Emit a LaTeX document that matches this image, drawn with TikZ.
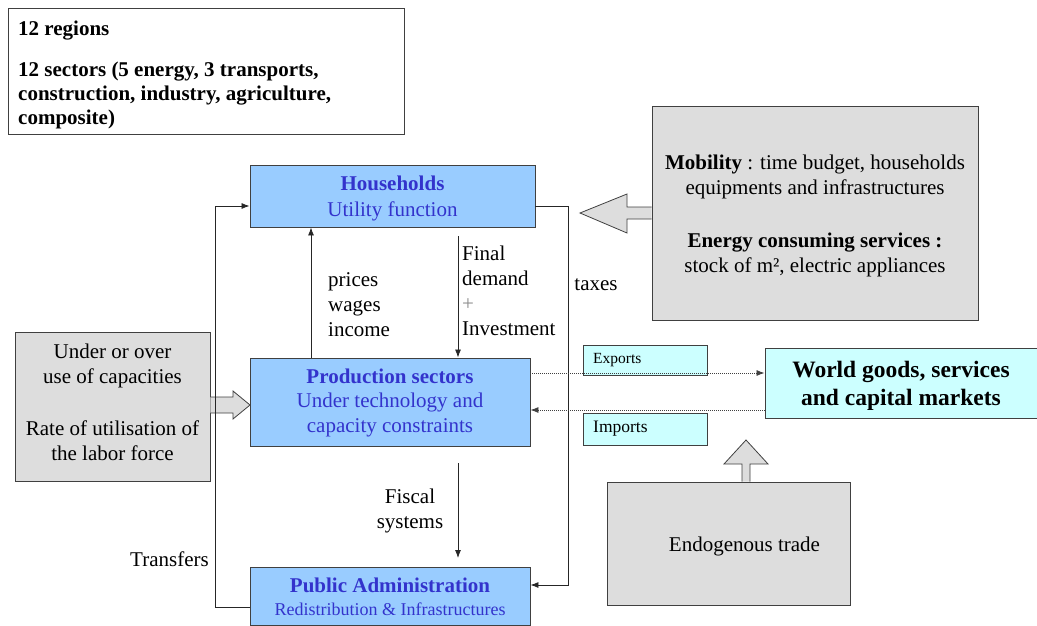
\documentclass[tikz,border=0pt]{standalone}
\usepackage{fontspec}
\setmainfont{Liberation Serif}
\usetikzlibrary{arrows.meta,calc}
\definecolor{boxline}{HTML}{404040}
\definecolor{agentfill}{HTML}{99CCFF}
\definecolor{agenttext}{HTML}{3333CC}
\definecolor{panelfill}{HTML}{DDDDDD}
\definecolor{tradefill}{HTML}{CCFFFF}
\begin{document}
\begin{tikzpicture}[x=1pt,y=-1pt,
  box/.style={draw=boxline, line width=0.9pt, inner sep=0pt},
  agent/.style={box, fill=agentfill},
  panel/.style={box, fill=panelfill},
  trade/.style={box, fill=tradefill},
  caption/.style={inner sep=0pt, align=center, font=\fontsize{21}{25}\selectfont},
  flow/.style={line width=0.8pt, draw=black!85, -{Latex[length=8pt,width=6pt]}},
  dotflow/.style={line width=0.8pt, draw=black!75, dash pattern=on 1pt off 1pt, -{Latex[length=8pt,width=6pt]}},
  blockarrow/.style={draw=boxline, fill=panelfill, line width=0.8pt, line join=miter},
  lbl/.style={inner sep=0pt, font=\fontsize{21}{25}\selectfont}
]
\useasboundingbox (0,0) rectangle (1037,626);

% model scope
\node[box, minimum width=396, minimum height=126, anchor=north west] (scope) at (8,8) {};
\node[caption, align=left, anchor=north west, font=\fontsize{21}{24}\selectfont\bfseries] (scopetext) at (18,20.5)
  {12 regions\\[17pt]
   12 sectors (5 energy, 3 transports,\\
   construction, industry, agriculture,\\
   composite)};

% agents
\node[agent, minimum width=285, minimum height=62] (hh) at (392.5,196) {};
\node[caption, text=agenttext, font=\fontsize{21}{26}\selectfont] (hhtext) at ([yshift=-2.5pt]hh.center)
  {\textbf{Households}\\Utility function};
\node[agent, minimum width=280, minimum height=88] (ps) at (390,402) {};
\node[caption, text=agenttext, font=\fontsize{21}{24.5}\selectfont] (pstext) at ([yshift=-0.5pt]ps.center)
  {\textbf{Production sectors}\\Under technology and\\capacity constraints};
\node[agent, minimum width=280, minimum height=58] (pa) at (390,596) {};
\node[caption, text=agenttext, font=\fontsize{21}{23}\selectfont] (patext) at ([yshift=-1pt]pa.center)
  {\textbf{Public Administration}\\{\fontsize{18}{20}\selectfont Redistribution \& Infrastructures}};

% exogenous panels
\node[panel, minimum width=195, minimum height=149] (cap) at (112.5,406.5) {};
\node[caption, font=\fontsize{21}{25.5}\selectfont] (captext) at ([yshift=4pt]cap.center)
  {Under or over\\use of capacities\\[26pt]Rate of utilisation of\\the labor force};
\node[panel, minimum width=326, minimum height=214] (mob) at (815,213) {};
\node[caption] (mobtext) at ([yshift=-3pt]mob.center)
  {\textbf{Mobility} : time budget, households\\equipments and infrastructures\\[28pt]
   \textbf{Energy consuming services :}\\stock of m², electric appliances};
\node[panel, minimum width=243, minimum height=123] (endo) at (728.5,543.5) {};
\node[caption] (endotext) at ([xshift=16pt,yshift=-3pt]endo.center) {Endogenous trade};

% world markets and trade flows
\node[trade, minimum width=272, minimum height=70] (world) at (901,383) {};
\node[caption, font=\fontsize{23.5}{28}\selectfont\bfseries] (worldtext) at ([yshift=-3pt]world.center)
  {World goods, services\\and capital markets};
\node[trade, minimum width=124, minimum height=30, anchor=west] (exp) at (583,360) {};
\node[caption, anchor=west, font=\fontsize{15.5}{16}\selectfont] (exptext) at ([xshift=10pt]exp.west) {Exports};
\node[trade, minimum width=124, minimum height=32, anchor=west] (imp) at (583,429) {};
\node[caption, anchor=west, font=\fontsize{17.5}{18}\selectfont] (imptext) at ([xshift=10pt]imp.west) {Imports};

% block arrows
\filldraw[blockarrow] (cap.east |- 0,397) -- (233,397) -- (233,391) -- (250,405)
  -- (233,419) -- (233,413) -- (cap.east |- 0,413);
\filldraw[blockarrow] (mob.west |- 0,207) -- (627,207) -- (627,194) -- (580,213)
  -- (627,233) -- (627,219) -- (mob.west |- 0,219);
\filldraw[blockarrow] (742,0 |- endo.north) -- (742,464) -- (724,464) -- (746,440)
  -- (768,464) -- (750,464) -- (750,0 |- endo.north);

% money and goods flows
\coordinate (leftrail) at (215,0);
\coordinate (rightrail) at (568,0);
\draw[flow] ([yshift=-11pt]pa.west) -| (leftrail |- 0,206) -- (hh.west |- 0,206);
\draw[flow] (hh.east |- 0,206) -| (rightrail |- 0,585) -- (pa.east |- 0,585);
\draw[flow] (311,0 |- ps.north) -- (311,0 |- hh.south);
\draw[flow] (458,236) -- (458,0 |- ps.north);
\draw[flow] (458,463) -- (458,558);
\draw[dotflow] (ps.east |- 0,373) -- (world.west |- 0,373);
\draw[dotflow] (world.west |- 0,410) -- (ps.east |- 0,410);

% flow labels
\node[lbl, align=left, anchor=west] (pwi) at (328,305) {prices\\wages\\income};
\node[lbl, align=left, anchor=west] (fd) at (462,290.5)
  {Final\\demand\\{\color{black!45}+}\\Investment};
\node[lbl] (tax) at (596,284.5) {taxes};
\node[lbl, align=center] (fisc) at (410,511) {Fiscal\\systems};
\node[lbl, anchor=east] (trans) at (209,559) {Transfers};
\end{tikzpicture}
\end{document}
